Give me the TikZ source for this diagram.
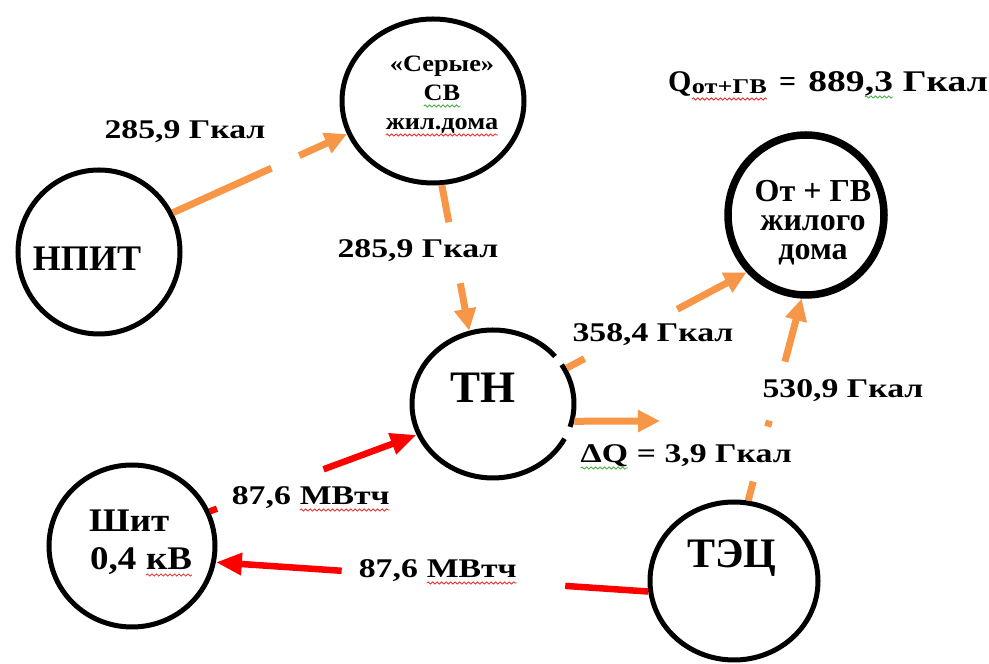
\documentclass[tikz,border=0pt]{standalone}
\usepackage{fontspec}
\setmainfont{Liberation Serif}
\newfontfamily\wideA[FakeStretch=1.25]{Liberation Serif}
\newfontfamily\wideB[FakeStretch=1.12]{Liberation Serif}
\usetikzlibrary{shapes.geometric,arrows.meta,calc,decorations.pathmorphing}
\definecolor{flow}{RGB}{247,150,70}
\definecolor{elec}{RGB}{255,0,0}
\definecolor{spellred}{RGB}{235,45,45}
\definecolor{spellgreen}{RGB}{70,175,70}
% spell-check style wavy underline
\newcommand\wavy[2]{\tikz[baseline=(wv.base)]{\node[inner sep=0pt,outer sep=0pt,anchor=base] (wv) {#2};\draw[#1,line width=0.8pt,decorate,decoration={snake,amplitude=1.1pt,segment length=4.5pt}] ([yshift=-5pt]wv.base west) -- ([yshift=-5pt]wv.base east);}}
\begin{document}
\begin{tikzpicture}[x=1pt,y=1pt,
  ring/.style={draw=black,line width=5pt},
  station/.style={ellipse,inner sep=0pt,outer sep=2.5pt},
  heat/.style={draw=flow,line width=7pt},
  power/.style={draw=elec,line width=6.5pt},
  heattip/.style={-{Triangle[length=22pt,width=21pt]}},
  powertip/.style={-{Triangle[length=26pt,width=21pt]}},
  flowlbl/.style={font=\wideA\bfseries\fontsize{27}{29}\selectfont,inner sep=0pt,anchor=base},
  namelbl/.style={font=\bfseries,inner sep=0pt,anchor=base}]
\fill[white] (0,0) rectangle (989,664);
\useasboundingbox (0,0) rectangle (989,664);

% stations
\node[station,ring,minimum width=162pt,minimum height=164pt] (npit) at (99,412) {};
\node[station,ring,minimum width=182pt,minimum height=164pt] (sery) at (433,563) {};
\node[station,draw=black,line width=7.5pt,outer sep=3.75pt,minimum width=156pt,minimum height=160pt] (ot) at (806,449) {};
\node[station,ring,minimum width=166pt,minimum height=162pt] (shit) at (132,118) {};
\node[station,minimum width=162pt,minimum height=148pt] (th) at (493,260) {};
\node[station,ring,minimum width=168pt,minimum height=158pt] (tec) at (734,83) {};
% heat pump ring, broken where the labels sit
\draw[ring] ($(th.center)+(40:81 and 74)$) arc[start angle=40,end angle=332,x radius=81,y radius=74];
\draw[ring] ($(th.center)+(-18:81 and 74)$) arc[start angle=-18,end angle=32,x radius=81,y radius=74];

% station names
\node[namelbl,font=\bfseries\fontsize{36}{38}\selectfont] (npit-t) at (87,393) {НПИТ};
\node[namelbl,font=\wideB\bfseries\fontsize{23.5}{25}\selectfont] (sery-t1) at (442,592) {«Серые»};
\node[namelbl,font=\wideB\bfseries\fontsize{23.5}{25}\selectfont] (sery-t2) at (442,563) {\wavy{spellgreen}{СВ}};
\node[namelbl,font=\wideB\bfseries\fontsize{23.5}{25}\selectfont] (sery-t3) at (442,534) {\wavy{spellred}{жил.дома}};
\node[namelbl,font=\bfseries\fontsize{32}{34}\selectfont] (ot-t1) at (813,462) {От + ГВ};
\node[namelbl,font=\bfseries\fontsize{32}{34}\selectfont] (ot-t2) at (813,433) {жилого};
\node[namelbl,font=\bfseries\fontsize{32}{34}\selectfont] (ot-t3) at (813,404) {дома};
\node[namelbl,anchor=base west,font=\wideB\bfseries\fontsize{33}{35}\selectfont] (shit-t1) at (89,132) {Шит};
\node[namelbl,anchor=base west,font=\wideB\bfseries\fontsize{33}{35}\selectfont] (shit-t2) at (90,94) {0,4 \wavy{spellred}{кВ}};
\node[namelbl,font=\bfseries\fontsize{45}{47}\selectfont] (th-t) at (483,261) {ТН};
\node[namelbl,font=\bfseries\fontsize{42}{44}\selectfont] (tec-t) at (732,96) {ТЭЦ};

% heat flows
\draw[heat] (npit.28) -- ($(npit.28)!0.566!(sery.201)$);
\draw[heat,heattip] ($(npit.28)!0.726!(sery.201)$) -- (sery.201);

\draw[heat] (sery.276) -- ($(sery.276)!0.255!(th.108)$);
\draw[heat,heattip] ($(sery.276)!0.674!(th.108)$) -- (th.108);

\draw[heat] (th.26) -- ($(th.26)!0.099!(ot.224)$);
\draw[heat,heattip] ($(th.26)!0.615!(ot.224)$) -- (ot.224);

\coordinate (loss) at (660,243);
\draw[heat,heattip] (th.-12) -- (loss);

\draw[heat] (tec.80) -- ($(tec.80)!0.094!(ot.267)$);
\draw[heat] ($(tec.80)!0.366!(ot.267)$) -- ($(tec.80)!0.396!(ot.267)$);
\draw[heat,heattip] ($(tec.80)!0.688!(ot.267)$) -- (ot.267);

% electricity flows
\draw[power] (shit.24) -- ($(shit.24)!0.035!(th.202)$);
\draw[power,powertip] ($(shit.24)!0.55!(th.202)$) -- (th.202);

\draw[power] (tec.187) -- ($(tec.187)!0.192!(shit.-11)$);
\draw[power,powertip] ($(tec.187)!0.709!(shit.-11)$) -- (shit.-11);

% flow values
\node[flowlbl] (l-npit) at (185,525) {285,9 Гкал};
\node[flowlbl] (l-sery) at (418,406) {285,9 Гкал};
\node[flowlbl] (l-th) at (653,322) {358,4 Гкал};
\node[flowlbl] (l-tec) at (843,266) {530,9 Гкал};
\node[flowlbl] (l-loss) at (686,201) {\wavy{spellgreen}{ΔQ} = 3,9 Гкал};
\node[flowlbl] (l-el1) at (311,159) {87,6 \wavy{spellred}{МВтч}};
\node[flowlbl] (l-el2) at (438,86) {87,6 \wavy{spellred}{МВтч}};
\node[flowlbl,anchor=base west,font=\bfseries\fontsize{30}{32}\selectfont] (qsum) at (668,572)
  {Q\raisebox{-2pt}{\wideA\fontsize{21}{22}\selectfont\wavy{spellred}{от+ГВ}}\hspace{12pt}=\hspace{12pt}\wideA 889\wavy{spellgreen}{,3} Гкал};
\end{tikzpicture}
\end{document}
